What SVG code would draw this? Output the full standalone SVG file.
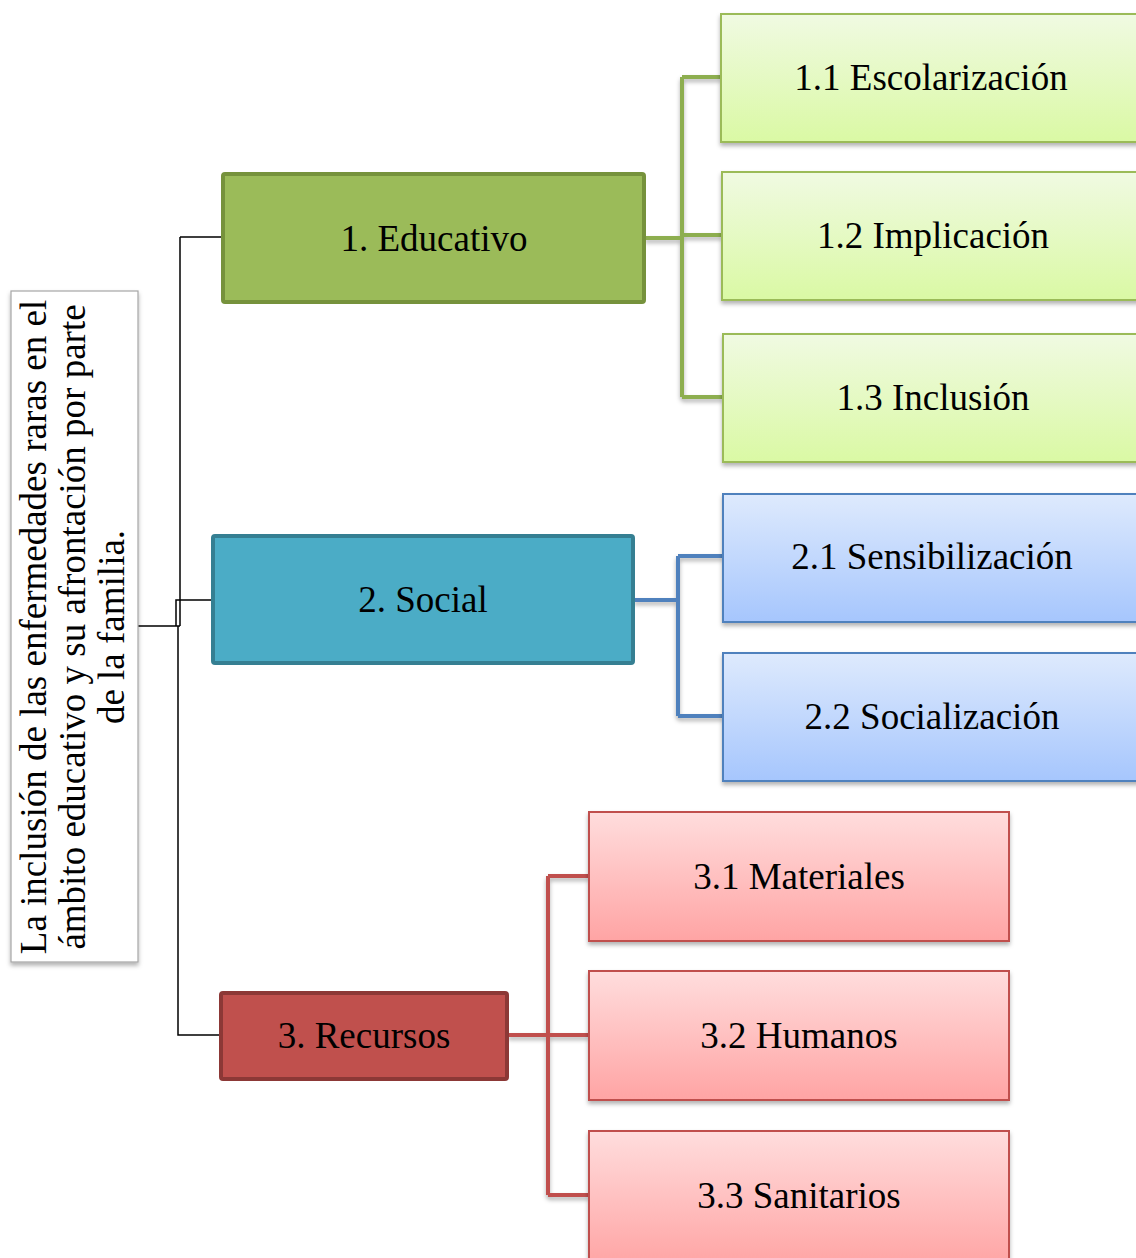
<svg xmlns="http://www.w3.org/2000/svg" width="1136" height="1258" viewBox="0 0 1136 1258">
<style>
  text { font-family: "Liberation Serif", "Times New Roman", serif; fill: #000; }
  .lbl { font-size: 37px; text-anchor: middle; dominant-baseline: central; }
  .root { font-size: 37px; text-anchor: middle; }
  .k { fill: none; stroke: #000; stroke-width: 1.5; }
  .cg { fill: none; stroke: #8DAE50; stroke-width: 4; }
  .cb { fill: none; stroke: #4F81BD; stroke-width: 4; }
  .cr { fill: none; stroke: #C0504D; stroke-width: 4; }
  .green { fill: url(#gGreen); stroke: #9BBB59; stroke-width: 2; }
  .blue { fill: url(#gBlue); stroke: #4F81BD; stroke-width: 2; }
  .red { fill: url(#gRed); stroke: #C0504D; stroke-width: 2; }
</style>
<defs>
  <linearGradient id="gGreen" x1="0" y1="0" x2="0" y2="1">
    <stop offset="0" stop-color="#F0FAE2"/>
    <stop offset="1" stop-color="#DAF9A4"/>
  </linearGradient>
  <linearGradient id="gBlue" x1="0" y1="0" x2="0" y2="1">
    <stop offset="0" stop-color="#DEEAFD"/>
    <stop offset="1" stop-color="#A6C6FD"/>
  </linearGradient>
  <linearGradient id="gRed" x1="0" y1="0" x2="0" y2="1">
    <stop offset="0" stop-color="#FFDDDD"/>
    <stop offset="1" stop-color="#FFA4A4"/>
  </linearGradient>
  <filter id="sh" x="-10%" y="-10%" width="130%" height="130%">
    <feDropShadow dx="0" dy="3" stdDeviation="2" flood-color="#000" flood-opacity="0.3"/>
  </filter>
</defs>

<g id="connectors">
  <path class="k" d="M138 626 H180 M180 237 V626 M178 626 V1035 H220 M180 237 H222 M176 626 V600 H212"/>
  <path class="cg" filter="url(#sh)" d="M645 238 H682 M682 77 V397 M682 77 H721 M682 235 H722 M682 397 H723"/>
  <path class="cb" filter="url(#sh)" d="M634 600 H678 M678 556 V716 M678 556 H723 M678 716 H723"/>
  <path class="cr" filter="url(#sh)" d="M508 1035 H548 M548 876 V1195 M548 876 H589 M548 1035 H589 M548 1195 H589"/>
</g>

<g id="root">
  <rect x="11" y="291" width="127" height="671" fill="#FFFFFF" stroke="#A6A6A6" stroke-width="1.2" filter="url(#sh)"/>
  <text class="root" transform="translate(46,627) rotate(-90)">La inclusión de las enfermedades raras en el</text>
  <text class="root" transform="translate(85,627) rotate(-90)">ámbito educativo y su afrontación por parte</text>
  <text class="root" transform="translate(124,627) rotate(-90)">de la familia.</text>
</g>

<g id="n1">
  <rect x="223" y="174" width="421" height="128" rx="2" fill="#9BBB59" stroke="#76923C" stroke-width="4"/>
  <text class="lbl" x="434" y="238">1. Educativo</text>
</g>
<g id="n2">
  <rect x="213" y="536" width="420" height="127" rx="2" fill="#4BACC6" stroke="#357F92" stroke-width="4"/>
  <text class="lbl" x="423" y="599">2. Social</text>
</g>
<g id="n3">
  <rect x="221" y="993" width="286" height="86" rx="2" fill="#C0504D" stroke="#8C3836" stroke-width="4"/>
  <text class="lbl" x="364" y="1035">3. Recursos</text>
</g>

<g id="n11">
  <rect class="green" x="721" y="14" width="420" height="128" filter="url(#sh)"/>
  <text class="lbl" x="931" y="77">1.1 Escolarización</text>
</g>
<g id="n12">
  <rect class="green" x="722" y="172" width="420" height="128" filter="url(#sh)"/>
  <text class="lbl" x="933" y="235">1.2 Implicación</text>
</g>
<g id="n13">
  <rect class="green" x="723" y="334" width="420" height="128" filter="url(#sh)"/>
  <text class="lbl" x="933" y="397">1.3 Inclusión</text>
</g>

<g id="n21">
  <rect class="blue" x="723" y="494" width="420" height="128" filter="url(#sh)"/>
  <text class="lbl" x="932" y="556">2.1 Sensibilización</text>
</g>
<g id="n22">
  <rect class="blue" x="723" y="653" width="420" height="128" filter="url(#sh)"/>
  <text class="lbl" x="932" y="716">2.2 Socialización</text>
</g>

<g id="n31">
  <rect class="red" x="589" y="812" width="420" height="129" filter="url(#sh)"/>
  <text class="lbl" x="799" y="876">3.1 Materiales</text>
</g>
<g id="n32">
  <rect class="red" x="589" y="971" width="420" height="129" filter="url(#sh)"/>
  <text class="lbl" x="799" y="1035">3.2 Humanos</text>
</g>
<g id="n33">
  <rect class="red" x="589" y="1131" width="420" height="135" filter="url(#sh)"/>
  <text class="lbl" x="799" y="1195">3.3 Sanitarios</text>
</g>
</svg>
